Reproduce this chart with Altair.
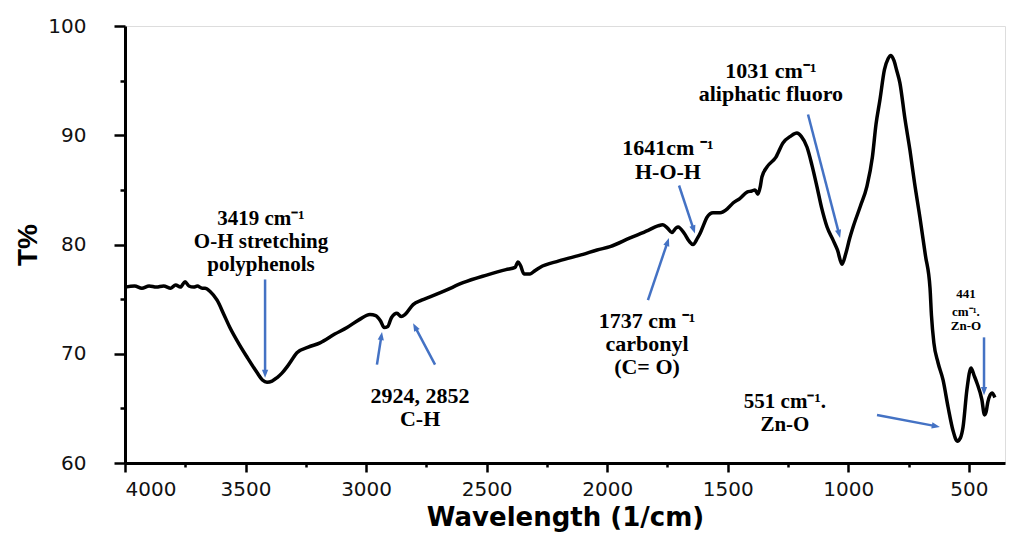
import math
import altair as alt
import pandas as pd

# ---- spectrum ----
wn = [4000, 3960, 3930, 3900, 3870, 3840, 3810, 3790, 3770, 3751, 3735, 3715, 3700, 3680,
      3668, 3647, 3618, 3590, 3565, 3530, 3494, 3453, 3430, 3411, 3390, 3370, 3350, 3328,
      3300, 3287, 3240, 3191, 3130, 3079, 3030, 2984, 2960, 2940, 2925, 2910, 2895, 2872,
      2855, 2838, 2805, 2770, 2735, 2670, 2598, 2500, 2420, 2382, 2370, 2360, 2345, 2320,
      2300, 2279, 2200, 2100, 2042, 1988, 1905, 1830, 1790, 1769, 1750, 1732, 1715, 1706,
      1680, 1660, 1644, 1625, 1615, 1600, 1586, 1561, 1532, 1500, 1478, 1450, 1420, 1400,
      1387, 1375, 1365, 1358, 1337, 1300, 1271, 1240, 1213, 1195, 1171, 1150, 1130, 1110,
      1088, 1063, 1045, 1026, 1010, 995, 980, 950, 923, 900, 885, 869, 850, 835, 823, 810,
      800, 786, 765, 744, 725, 703, 680, 661, 655, 645, 628, 607, 586, 566, 548, 535, 524,
      508, 491, 478, 466, 446, 435, 428, 421, 404, 392]
tr = [76.1, 76.2, 76.0, 76.2, 76.1, 76.2, 76.0, 76.3, 76.1, 76.6, 76.2, 76.1, 76.2, 76.0,
      76.0, 75.7, 74.9, 73.6, 72.4, 71.0, 69.7, 68.3, 67.6, 67.4, 67.5, 67.8, 68.2, 68.8,
      69.7, 70.1, 70.6, 71.0, 71.8, 72.4, 73.1, 73.6, 73.5, 73.0, 72.4, 72.5, 73.3, 73.7,
      73.4, 73.6, 74.5, 74.9, 75.2, 75.8, 76.5, 77.2, 77.7, 77.9, 78.4, 78.1, 77.3, 77.3,
      77.6, 77.9, 78.5, 79.1, 79.5, 79.8, 80.6, 81.3, 81.7, 81.8, 81.5, 81.1, 81.5, 81.6,
      81.0, 80.3, 80.0, 80.6, 81.0, 81.8, 82.5, 82.9, 82.9, 83.3, 83.8, 84.2, 84.8, 84.9,
      85.0, 84.6, 85.3, 86.2, 87.1, 88.0, 89.3, 89.9, 90.2, 89.9, 88.9, 87.2, 85.3, 83.3,
      81.6, 80.4, 79.5, 78.2, 79.2, 80.5, 81.6, 83.5, 85.3, 88.0, 91.0, 93.2, 96.0, 97.0, 97.3, 96.8,
      96.0, 94.8, 91.5, 88.6, 85.6, 82.5, 79.0, 76.0, 73.5, 71.0, 69.2, 67.6, 65.1, 63.0, 62.0, 62.3, 63.3,
      66.7, 68.7, 68.0, 67.3, 65.8, 64.4, 64.7, 65.6, 66.4, 66.0]

# ---- annotation arrows: start (wn, T) -> tip (wn, T) ----
arrow_w0 = [3419, 2955, 2714, 1831, 1702, 1167, 881, 437]
arrow_t0 = [76.8, 69.0, 69.0, 74.9, 85.4, 91.9, 64.4, 71.5]
arrow_w1 = [3419, 2934, 2805, 1744, 1636, 1034, 620, 437]
arrow_t1 = [67.8, 72.0, 72.8, 80.6, 81.0, 80.6, 63.3, 66.2]

# ---- annotation texts ----
lab_text = ["3419 cm\u207b\u00b9", "O-H stretching", "polyphenols",
            "2924, 2852", "C-H",
            "1737 cm \u207b\u00b9", "carbonyl", "(C= O)",
            "1641cm \u207b\u00b9", "H-O-H",
            "1031 cm\u207b\u00b9", "aliphatic fluoro",
            "551 cm\u207b\u00b9.", "Zn-O",
            "441", "cm\u207b\u00b9.", "Zn-O"]
lab_w = [3436, 3436, 3436, 2776, 2776, 1835, 1835, 1835, 1748, 1748, 1321, 1321,
         1263, 1263, 512, 512, 512]
lab_t = [82.3, 80.2, 78.1, 66.1, 64.0, 73.0, 70.9, 68.8, 88.8, 86.6, 95.9, 93.8,
         65.6, 63.5, 75.5, 73.8, 72.5]
lab_size = [21, 21, 21, 22, 22, 22, 22, 22, 22, 22, 22, 22, 21, 21, 13, 13, 13]

W, H = 880, 437
XMIN, XMAX = 350, 4000
YMIN, YMAX = 60, 100
kx = W / (XMAX - XMIN)
ky = H / (YMAX - YMIN)
BLUE = "#4472C4"

spec = pd.DataFrame({"w": wn, "t": tr})

rows = []
for w0, t0, w1, t1 in zip(arrow_w0, arrow_t0, arrow_w1, arrow_t1):
    dx = (w0 - w1) * kx          # screen x grows as wavenumber falls
    dy = (t0 - t1) * ky          # screen y grows as T falls
    ang = math.degrees(math.atan2(dx, -dy)) % 360
    L = math.hypot(dx, dy)
    back = 7.0 / L               # shaft stops at arrowhead base
    rows.append({"w0": w0, "t0": t0,
                 "w1b": w1 + (w0 - w1) * back, "t1b": t1 + (t0 - t1) * back,
                 "w1": w1, "t1": t1, "angle": ang})
arr = pd.DataFrame(rows)

labs = pd.DataFrame({"w": lab_w, "t": lab_t, "text": lab_text, "size": lab_size})

xs = alt.Scale(domain=[XMIN, XMAX], reverse=True, nice=False, zero=False)
ys = alt.Scale(domain=[YMIN, YMAX], nice=False, zero=False)

x_axis = alt.Axis(
    title="Wavelength (1/cm)",
    values=list(range(4000, 499, -250)),
    labelExpr="datum.value % 500 === 0 ? datum.label : ''",
    format="d",
    grid=False,
    tickSize={"condition": {"test": "datum.value % 500 === 0", "value": 9}, "value": 4},
    tickWidth=2.5, tickColor="black",
    domainWidth=3, domainColor="black",
    labelFont="DejaVu Sans", labelFontSize=20, labelColor="#111",
    labelPadding=7,
    titleFont="DejaVu Sans", titleFontSize=26, titleFontWeight="bold",
    titleColor="black", titleY=62, titleBaseline="alphabetic",
)
y_axis = alt.Axis(
    title="T%",
    values=list(range(60, 101, 5)),
    labelExpr="datum.value % 10 === 0 ? datum.label : ''",
    grid=False,
    tickSize={"condition": {"test": "datum.value % 10 === 0", "value": 11}, "value": 5},
    tickWidth=2.5, tickColor="black",
    domainWidth=3, domainColor="black",
    labelFont="DejaVu Sans", labelFontSize=20, labelColor="#111",
    labelPadding=28,
    titleFont="Liberation Sans", titleFontSize=28, titleFontWeight="bold",
    titleColor="black", titleX=-97, titleY=H / 2, titleBaseline="middle",
    titleAlign="center",
)

line = alt.Chart(spec).mark_line(color="black", strokeWidth=3.5, interpolate="monotone",
                                 strokeJoin="round").encode(
    x=alt.X("w:Q", scale=xs, axis=x_axis),
    y=alt.Y("t:Q", scale=ys, axis=y_axis),
    order="w:Q",
)

shafts = alt.Chart(arr).mark_rule(color=BLUE, strokeWidth=2.5).encode(
    x="w0:Q", y="t0:Q", x2="w1b:Q", y2="t1b:Q")

heads = alt.Chart(arr).mark_point(
    shape="M0,0L-0.42,1.1L0.42,1.1Z", filled=True, opacity=1, color=BLUE,
    size=220, strokeWidth=0).encode(
    x="w1:Q", y="t1:Q", angle=alt.Angle("angle:Q", scale=None))

texts = alt.Chart(labs).mark_text(font="Liberation Serif", fontWeight="bold",
                                  color="black", baseline="middle", align="center").encode(
    x="w:Q", y="t:Q", text="text:N", size=alt.Size("size:Q", scale=None))

chart = alt.layer(line, shafts, heads, texts).properties(
    width=W, height=H,
    autosize=alt.AutoSizeParams(type="none"),
    padding={"left": 125, "top": 26, "right": 6, "bottom": 70},
).configure_view(stroke="#666", strokeWidth=1.2).configure(background="white")

chart.save("out.html", embed_options={"renderer": "svg", "actions": False})
